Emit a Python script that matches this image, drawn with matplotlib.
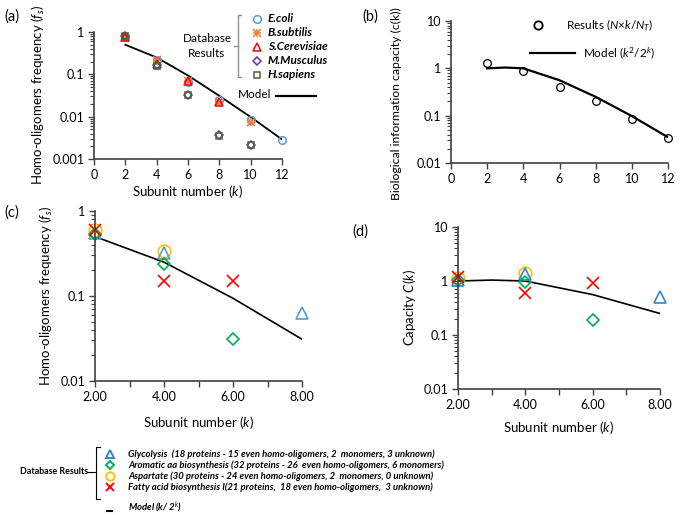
import matplotlib
matplotlib.use("Agg")
import matplotlib.pyplot as plt
from matplotlib.ticker import LogLocator, NullFormatter, FixedLocator

plt.rcParams["font.family"] = ["Lato", "DejaVu Sans"]
plt.rcParams["mathtext.fontset"] = "custom"
plt.rcParams["mathtext.rm"] = "Lato"
plt.rcParams["mathtext.it"] = "Lato:italic"

W, H = 685, 515

# ---- data: panel (a) ----
k_a = [2, 4, 6, 8, 10, 12]
ecoli = [0.75, 0.22, 0.065, 0.025, 0.0085, 0.0028]
k_bsub = [2, 4, 6, 8, 10]
bsub = [0.72, 0.22, 0.068, 0.022, 0.0075]
k_scer = [2, 4, 6, 8]
scer = [0.78, 0.18, 0.068, 0.022]
k_mm = [2, 4, 6, 8, 10]
mmus = [0.82, 0.17, 0.033, 0.0036, 0.0022]
hsap = [0.80, 0.16, 0.033, 0.0035, 0.0021]
model_fs = [0.5, 0.25, 0.094, 0.031, 0.0098, 0.0029]

# ---- data: panel (b) ----
k_b = [2, 4, 6, 8, 10, 12]
results_b = [1.3, 0.88, 0.4, 0.2, 0.085, 0.034]
k_model_b = [2, 3, 4, 6, 8, 10, 12]
model_ck = [1.0, 1.04, 1.0, 0.56, 0.25, 0.098, 0.035]

# ---- data: panels (c) and (d) ----
k_gly = [2, 4, 8]
gly_c = [0.55, 0.32, 0.063]
gly_d = [1.05, 1.35, 0.5]
k_aro = [2, 4, 6]
aro_c = [0.53, 0.24, 0.031]
aro_d = [1.05, 0.97, 0.19]
k_asp = [2, 4]
asp_c = [0.6, 0.34]
asp_d = [1.15, 1.4]
k_fat = [2, 4, 6]
fat_c = [0.6, 0.15, 0.15]
fat_d = [1.2, 0.6, 0.9]
k_model_c = [2, 4, 6, 8]
model_c = [0.5, 0.25, 0.094, 0.031]
k_model_d = [2, 3, 4, 6, 8]
model_d = [1.0, 1.04, 1.0, 0.56, 0.25]

a_species = ["E.coli", "B.subtilis", "S.Cerevisiae", "M.Musculus", "H.sapiens"]
pathways = ["Glycolysis  (18 proteins - 15 even homo-oligomers, 2  monomers, 3 unknown)",
            "Aromatic aa biosynthesis (32 proteins - 26  even homo-oligomers, 6 monomers)",
            "Aspartate (30 proteins - 24 even homo-oligomers, 2  monomers, 0 unknown)",
            "Fatty acid biosynthesis I(21 proteins,  18 even homo-oligomers,  3 unknown)"]

c_blue = "#5B9BD5"
c_orange = "#ED7D31"
c_red = "#FF0000"
c_purple = "#7030A0"
c_dgreen = "#3E6B2A"
c_gly = "#2E86D0"
c_aro = "#00B050"
c_asp = "#FFC000"


def rect(l, t, r, b):
    return [l / W, 1 - b / H, (r - l) / W, (b - t) / H]


def style(ax, fs=9):
    ax.set_yscale("log")
    for s in ["top", "right"]:
        ax.spines[s].set_visible(False)
    for s in ["left", "bottom"]:
        ax.spines[s].set_color("#404040")
        ax.spines[s].set_linewidth(1.2)
    ax.yaxis.set_minor_locator(LogLocator(base=10, subs=range(2, 10), numticks=20))
    ax.yaxis.set_minor_formatter(NullFormatter())
    ax.tick_params(which="major", length=4, width=1, color="#404040", labelsize=fs, pad=3)
    ax.tick_params(axis="y", which="minor", length=3, width=0.8, color="#404040")
    ax.yaxis.set_major_formatter(matplotlib.ticker.FuncFormatter(lambda v, p: f"{v:g}"))
    ax.patch.set_alpha(0)


fig = plt.figure(figsize=(W / 100, H / 100), dpi=100)

# ---------------- (a) ----------------
ax = fig.add_axes(rect(94, 32, 282, 159))
style(ax)
ax.set_xlim(0, 12)
ax.set_ylim(0.001, 1)
ax.set_xticks(range(0, 13, 2))
mk = dict(linestyle="none", markersize=5.5, markerfacecolor="none", markeredgewidth=1.1, clip_on=False)
ax.plot(k_a, model_fs, color="black", lw=1.3, zorder=1)
ax.plot(k_a, ecoli, marker="o", color=c_blue, **mk)
ax.plot(k_bsub, bsub, marker="x", color=c_orange, **mk)
ax.plot(k_bsub, bsub, marker="+", color=c_orange, **mk)
ax.plot(k_scer, scer, marker="^", color=c_red, **mk)
ax.plot(k_mm, mmus, marker="D", color=c_purple, **dict(mk, markersize=4.5))
ax.plot(k_mm, hsap, marker="s", color=c_dgreen, **dict(mk, markersize=4.5))
ax.set_xlabel("Subunit number ($k$)", fontsize=9.5, labelpad=2)
ax.set_ylabel("Homo-oligomers frequency ($f_s$)", fontsize=9.5, labelpad=4)

# ---------------- (b) ----------------
ax = fig.add_axes(rect(451, 21, 668, 163))
style(ax)
ax.set_xlim(0, 12)
ax.set_ylim(0.01, 10)
ax.set_xticks(range(0, 13, 2))
ax.plot(k_model_b, model_ck, color="black", lw=1.6, zorder=1)
ax.plot(k_b, results_b, marker="o", color="black", linestyle="none", markersize=5.5,
        markerfacecolor="none", markeredgewidth=0.9, clip_on=False)
ax.set_ylabel("Biological information capacity (c(k))", fontsize=8.8)
ax.yaxis.set_label_coords(-0.225, 0.42)

# ---------------- (c) ----------------
mk2 = dict(linestyle="none", markersize=8, markerfacecolor="none", markeredgewidth=1.2, clip_on=False)
ax = fig.add_axes(rect(95, 211, 302, 381))
style(ax)
ax.set_xlim(2, 8)
ax.set_ylim(0.01, 1)
ax.set_xticks([2, 4, 6, 8])
ax.set_xticklabels([f"{v:.2f}" for v in [2, 4, 6, 8]])
ax.xaxis.set_minor_locator(FixedLocator([3, 5, 7]))
ax.tick_params(axis="x", which="minor", length=4, width=1, color="#404040")
ax.plot(k_model_c, model_c, color="black", lw=1.2, zorder=1)
ax.plot(k_asp, asp_c, marker="o", color=c_asp, **dict(mk2, markersize=9))
ax.plot(k_gly, gly_c, marker="^", color=c_blue, **mk2)
ax.plot(k_aro, aro_c, marker="D", color=c_aro, **dict(mk2, markersize=6.5))
ax.plot(k_fat, fat_c, marker="x", color=c_red, **mk2)
ax.set_xlabel("Subunit number ($k$)", fontsize=9.5, labelpad=8)
ax.set_ylabel("Homo-oligomers frequency ($f_s$)", fontsize=9.5, labelpad=4)

# ---------------- (d) ----------------
ax = fig.add_axes(rect(458, 227, 660, 389))
style(ax)
ax.set_xlim(2, 8)
ax.set_ylim(0.01, 10)
ax.set_xticks([2, 4, 6, 8])
ax.set_xticklabels([f"{v:.2f}" for v in [2, 4, 6, 8]])
ax.xaxis.set_minor_locator(FixedLocator([3, 5, 7]))
ax.tick_params(axis="x", which="minor", length=4, width=1, color="#404040")
ax.plot(k_model_d, model_d, color="black", lw=1.2, zorder=1)
ax.plot(k_asp, asp_d, marker="o", color=c_asp, **dict(mk2, markersize=9))
ax.plot(k_gly, gly_d, marker="^", color=c_gly, **mk2)
ax.plot(k_aro, aro_d, marker="D", color=c_aro, **dict(mk2, markersize=6.5))
ax.plot(k_fat, fat_d, marker="x", color=c_red, **mk2)
ax.set_xlabel("Subunit number ($k$)", fontsize=9.5, labelpad=6)
ax.set_ylabel("Capacity $C(k)$", fontsize=9.5, labelpad=4)

# ---------------- overlay for labels / legends ----------------
ov = fig.add_axes([0, 0, 1, 1])
ov.set_xlim(0, W)
ov.set_ylim(H, 0)
ov.axis("off")
ov.patch.set_alpha(0)

for lab, x, y in [("(a)", 4, 17), ("(b)", 362, 17), ("(c)", 4, 213), ("(d)", 352, 232)]:
    ov.text(x, y, lab, fontsize=10.5, va="center")

# legend (a)
ov.plot([241, 238, 238, 241], [15, 15, 77, 77], color="#909090", lw=1)
ov.plot([234, 238], [46, 46], color="#909090", lw=1)
ov.text(207, 46, "Database\nResults", fontsize=8.5, ha="center", va="center", linespacing=1.4)
leg_a = [("o", c_blue, 5.5), ("x", c_orange, 5.5), ("^", c_red, 5.5), ("D", c_purple, 4.5), ("s", c_dgreen, 4.5)]
for i, (name, (m, c, ms)) in enumerate(zip(a_species, leg_a)):
    y = 19 + i * 14
    ov.plot([257], [y], marker=m, color=c, markersize=ms, markerfacecolor="none", markeredgewidth=1.1)
    if m == "x":
        ov.plot([257], [y], marker="+", color=c, markersize=ms, markeredgewidth=1.1)
    ov.text(268, y, name, fontsize=8.5, style="italic", weight="bold", va="center")
ov.text(238, 95, "Model", fontsize=8.5, va="center")
ov.plot([276, 316], [96, 96], color="black", lw=1.6)

# legend (b)
ov.plot([538], [25], marker="o", color="black", markersize=6, markerfacecolor="none", markeredgewidth=1.3)
ov.text(566, 25, "Results ($N$×$k$/$N_T$)", fontsize=8.5, va="center")
ov.plot([530, 575], [53, 53], color="black", lw=1.6)
ov.text(583, 53, "Model ($k^2$/2$^k$)", fontsize=8.5, va="center")

# bottom legend
ov.text(20, 472, "Database Results", fontsize=6.4, weight="bold", va="center")
ov.plot([87, 95], [472, 472], color="black", lw=0.8)
ov.plot([100, 96, 96, 100], [447, 447, 499, 499], color="black", lw=0.8)
leg_b = [("^", c_gly, 6), ("D", c_aro, 4.5), ("o", c_asp, 6), ("x", c_red, 6)]
for i, (name, (m, c, ms)) in enumerate(zip(pathways, leg_b)):
    y = 454 + i * 11
    ov.plot([110], [y], marker=m, color=c, markersize=ms, markerfacecolor="none", markeredgewidth=1.4)
    ov.text(128, y, name, fontsize=6.8, style="italic", weight="bold", va="center")
ov.plot([107, 112], [511, 511], color="black", lw=1.5)
ov.text(128, 507, "Model (k/ 2$^k$)", fontsize=6.8, style="italic", weight="bold", va="center")

fig.savefig("out.png", dpi=100)
